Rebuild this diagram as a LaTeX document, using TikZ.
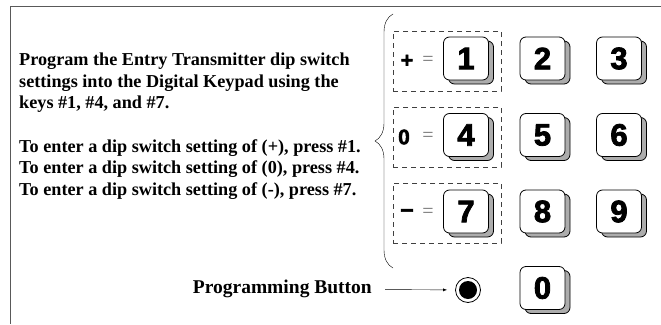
\documentclass[tikz,border=0pt]{standalone}
\usepackage{fontspec}
\setmainfont{Liberation Serif}
\newfontfamily\keyfont[FakeBold=2.5]{Liberation Sans Bold}
\usetikzlibrary{shadows,decorations.pathreplacing}

\begin{document}
\begin{tikzpicture}[x=1pt,y=-1pt,
        keycap/.style={draw,fill=white,rounded corners=6pt,line width=0.8pt,minimum width=45pt,minimum height=43pt,
            general shadow={draw=black,fill=gray!65,shadow xshift=5pt,shadow yshift=-4pt},
            font=\keyfont\fontsize{31}{31}\selectfont},
        keygroup/.style={draw,dash pattern=on 5pt off 4pt,black!75,minimum width=108pt,minimum height=60pt},
        sign/.style={font=\keyfont\fontsize{21}{21}\selectfont},
        equals/.style={text=black!55,font=\fontsize{20}{20}\selectfont},
        info/.style={font=\bfseries\fontsize{18.2}{21.7}\selectfont,align=left,inner sep=0pt}
    ]

    \useasboundingbox (0,0) rectangle (661,324);
    \draw[black!65,line width=0.9pt] (661,6) -- (10,6) -- (10,324);

    \node[info,anchor=north west] (instructions) at (19,52.5) {Program the Entry Transmitter dip switch\\
        settings into the Digital Keypad using the\\
        keys \#1, \#4, and \#7.\\[21.7pt]
        To enter a dip switch setting of (+), press \#1.\\
        To enter a dip switch setting of (0), press \#4.\\
        To enter a dip switch setting of (-), press \#7.};

    \draw[decorate,decoration={brace,amplitude=18pt,aspect=0.5}] (393,268) -- (393,14);

    \node[keygroup] (plusgroup) at (447,61) {};
    \node[keygroup] (zerogroup) at (447,137) {};
    \node[keygroup] (minusgroup) at (447,213) {};

    \node[sign] (plus) at (407,61) {+};
    \node[equals] (plusequals) at (428,61) {=};
    \node[sign] (zero) at (404,137) {0};
    \node[equals] (zeroequals) at (428,137) {=};
    \node[sign,font=\keyfont\fontsize{24}{24}\selectfont] (minus) at (407,213) {–};
    \node[equals] (minusequals) at (428,213) {=};

    \node[keycap] (key1) at (466,58.5) {1};
    \node[keycap] (key2) at (542.5,58.5) {2};
    \node[keycap] (key3) at (619,58.5) {3};
    \node[keycap] (key4) at (466,135) {4};
    \node[keycap] (key5) at (542.5,135) {5};
    \node[keycap] (key6) at (619,135) {6};
    \node[keycap] (key7) at (466,211.5) {7};
    \node[keycap] (key8) at (542.5,211.5) {8};
    \node[keycap] (key9) at (619,211.5) {9};
    \node[keycap] (key0) at (542.5,288) {0};

    \node[draw,circle,fill=white,line width=0.8pt,minimum size=25pt,inner sep=0pt] (button) at (468,290) {};
    \node[circle,fill=black,minimum size=18pt,inner sep=0pt] (buttondot) at (button) {};

    \node[info,anchor=east,font=\bfseries\fontsize{19.5}{21.7}\selectfont] (buttonlabel) at (372,289) {Programming Button};
    \draw[-latex,shorten <=13pt,shorten >=8pt] (buttonlabel) -- (button);

\end{tikzpicture}
\end{document}
